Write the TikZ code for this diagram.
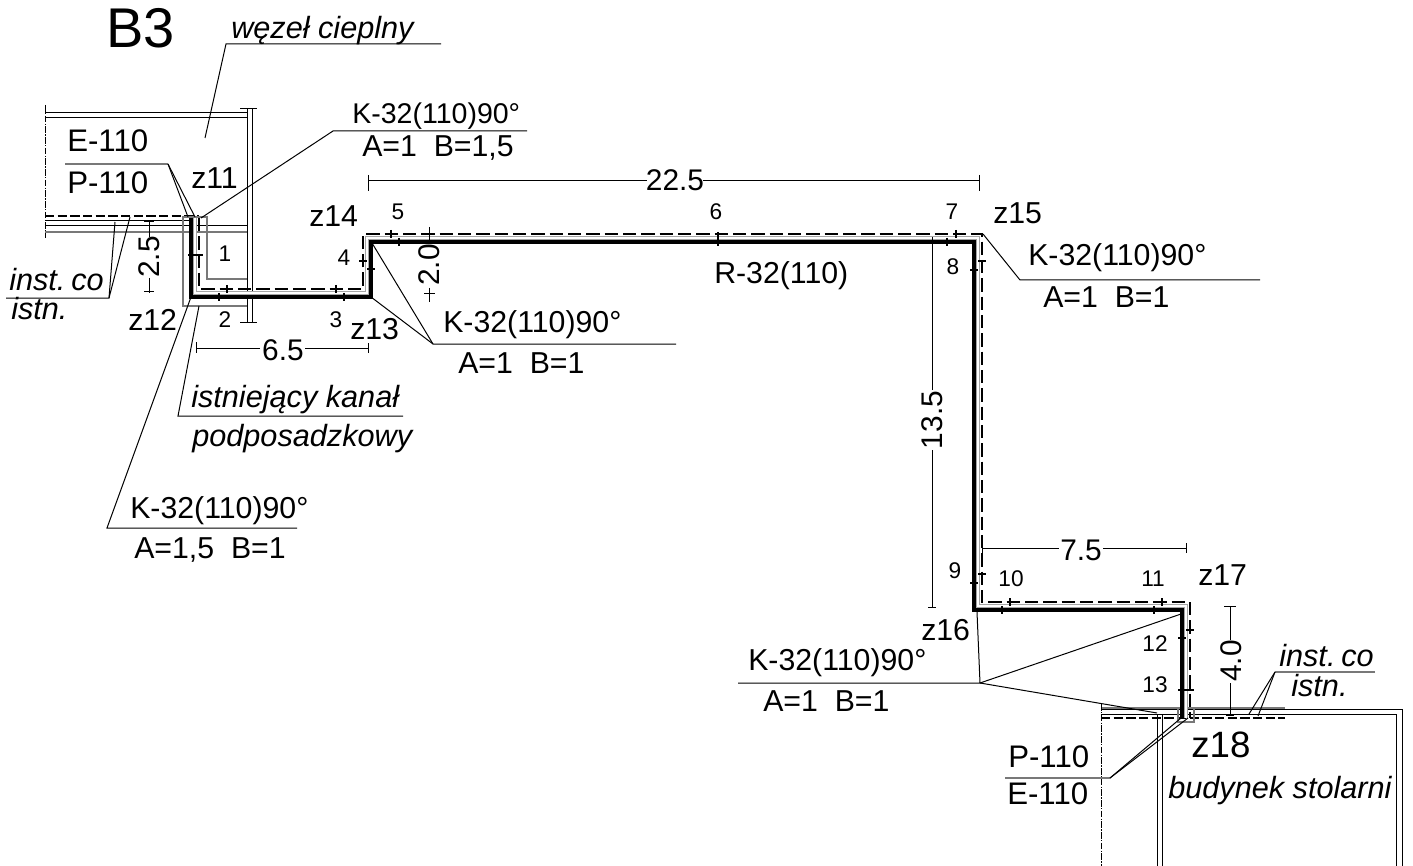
\documentclass[tikz,border=0pt]{standalone}
\usepackage{fontspec}
\setmainfont{Liberation Sans}
\usepackage{tikz}

\tikzset{
  txt/.style={anchor=base west,inner sep=0pt,font=\fontsize{22.7}{26}\selectfont},
  num/.style={anchor=base,inner sep=0pt,font=\fontsize{17}{20}\selectfont},
  ital/.style={anchor=base west,inner sep=0pt,font=\fontsize{23}{27}\selectfont\itshape},
  dimtxt/.style={inner sep=0pt,font=\fontsize{22.4}{26}\selectfont},
  thin line/.style={line width=0.7pt},
  leader/.style={line width=0.75pt},
  wall/.style={line width=0.75pt},
  channel/.style={line width=1pt,color={rgb,255:red,120;green,120;blue,120}},
  axis/.style={line width=0.6pt,dash pattern={on 5pt off 1pt on 1pt off 1pt}},
  pipe/.style={line width=2.5pt,miter limit=10},
  retpipe/.style={line width=2pt,dash pattern={on 10pt off 3.75pt}},
  jacket/.style={line width=2.6pt,color={rgb,255:red,165;green,165;blue,165}},
  jacketw/.style={line width=1.2pt,color=white},
  dashline/.style={line width=0.9pt,dash pattern={on 7pt off 2.5pt}},
  tick/.style={line width=1.3pt}
}

\begin{document}
\begin{tikzpicture}[x=0.75pt,y=0.75pt,yscale=-1,xscale=1]
\useasboundingbox (0,0) rectangle (1413,866);

% Wall left building
\draw [wall] (45,113) -- (247,113) ;
\draw [wall] (45,118) -- (247,118) ;
\draw [wall] (247,109) -- (247,322) ;
\draw [wall] (252,109) -- (252,322) ;
\draw [wall] (240,109) -- (257,109) ;
\draw [wall] (240,322) -- (257,322) ;
\draw [axis] (45,105) -- (45,238) ;
\draw [wall] (45,221) -- (190,221) ;
\draw [wall] (45,226) -- (247,226) ;
\draw [channel] (45,232) -- (247,232) ;
\draw [dashline] (45,216) -- (199,216) ;

% Channel
\draw [channel] (247,306) -- (183,306) -- (183,217) -- (207,217) -- (207,279) -- (247,279) ;

% Wall right building
\draw [wall] (1101,709) -- (1402,709) -- (1402,866) ;
\draw [wall] (1101,714) -- (1396,714) -- (1396,866) ;
\draw [channel] (1101,708) -- (1285,708) ;
\draw [wall] (1157,714) -- (1157,866) ;
\draw [wall] (1162,714) -- (1162,866) ;
\draw [axis] (1101,704) -- (1101,866) ;
\draw [dashline] (1101,718) -- (1285,718) ;
\draw [channel] (1178,708) -- (1178,722) -- (1194,722) -- (1194,708) ;

% Pipes
\draw [jacket] (195,218) -- (195,293) -- (367,293) -- (367,238) -- (978,238) -- (978,606) -- (1186,606) -- (1186,718) ;
\draw [jacketw] (195,218) -- (195,293) -- (367,293) -- (367,238) -- (978,238) -- (978,606) -- (1186,606) -- (1186,718) ;
\draw [pipe] (191,218) -- (191,297) -- (371,297) -- (371,242) -- (974,242) -- (974,610) -- (1182,610) -- (1182,718) ;
\draw [retpipe] (199,218) -- (199,289) -- (363,289) -- (363,234) -- (982,234) -- (982,602) -- (1190,602) -- (1190,718) ;

% Pipe ticks
\draw [tick] (188,255) -- (203,255) ;
\draw [tick] (219,293) -- (219,301) ;
\draw [tick] (227,285) -- (227,293) ;
\draw [tick] (344,293) -- (344,301) ;
\draw [tick] (336,285) -- (336,293) ;
\draw [tick] (359,261) -- (367,261) ;
\draw [tick] (367,269) -- (375,269) ;
\draw [tick] (391,230) -- (391,238) ;
\draw [tick] (399,238) -- (399,246) ;
\draw [tick] (718,232) -- (718,246) ;
\draw [tick] (956,230) -- (956,238) ;
\draw [tick] (947,238) -- (947,246) ;
\draw [tick] (970,270) -- (978,270) ;
\draw [tick] (978,261) -- (986,261) ;
\draw [tick] (970,583) -- (978,583) ;
\draw [tick] (978,574) -- (986,574) ;
\draw [tick] (1010,598) -- (1010,606) ;
\draw [tick] (1002,606) -- (1002,614) ;
\draw [tick] (1162,598) -- (1162,606) ;
\draw [tick] (1154,606) -- (1154,614) ;
\draw [tick] (1186,630) -- (1194,630) ;
\draw [tick] (1178,638) -- (1186,638) ;
\draw [tick] (1178,690) -- (1194,690) ;

% Dimensions
\draw [thin line] (368,175) -- (368,191) ;
\draw [thin line] (979,175) -- (979,191) ;
\draw [thin line] (368,180) -- (647,180) ;
\draw [thin line] (703,180) -- (979,180) ;
\draw (675,180) node (dimA) [dimtxt] {22.5};

\draw [thin line] (196,342) -- (196,353) ;
\draw [thin line] (368,343) -- (368,353) ;
\draw [thin line] (196,348) -- (260,348) ;
\draw [thin line] (305,348) -- (368,348) ;
\draw (283,350) node (dimB) [dimtxt] {6.5};

\draw [thin line] (982,540) -- (982,553) ;
\draw [thin line] (1186,543) -- (1186,553) ;
\draw [thin line] (982,548) -- (1059,548) ;
\draw [thin line] (1103,548) -- (1186,548) ;
\draw (1081,550) node (dimC) [dimtxt] {7.5};

\draw [thin line] (149,221) -- (149,237) ;
\draw [thin line] (149,278) -- (149,293) ;
\draw [thin line] (144,221) -- (154,221) ;
\draw [thin line] (144,291) -- (154,291) ;
\draw (149,257) node (dimD) [dimtxt,rotate=90] {2.5};

\draw [thin line] (429,227) -- (429,240) ;
\draw [thin line] (429,288) -- (429,302) ;
\draw [thin line] (424,293) -- (435,293) ;
\draw (429,265) node (dimE) [dimtxt,rotate=90] {2.0};

\draw [thin line] (932,237) -- (932,390) ;
\draw [thin line] (932,450) -- (932,607) ;
\draw [thin line] (928,607) -- (936,607) ;
\draw (932,420) node (dimF) [dimtxt,rotate=90] {13.5};

\draw [thin line] (1230,606) -- (1230,640) ;
\draw [thin line] (1230,683) -- (1230,716) ;
\draw [thin line] (1224,606) -- (1236,606) ;
\draw [thin line] (1226,715) -- (1234,715) ;
\draw (1231,661) node (dimG) [dimtxt,rotate=90] {4.0};

% Leaders
\draw [leader] (441,44) -- (226,44) -- (205,138) ;
\draw [channel] (65,164) -- (168,164) ;
\draw [leader] (168,164) -- (188,217) ;
\draw [leader] (168,164) -- (195,217) ;
\draw [leader] (527,131) -- (333,131) -- (201,218) ;
\draw [leader] (6,298) -- (109,298) -- (115,222) ;
\draw [leader] (109,298) -- (130,217) ;
\draw [leader] (297,528) -- (107,528) -- (191,297) ;
\draw [leader] (403,416) -- (178,416) -- (199,306) ;
\draw [leader] (676,344) -- (433,344) -- (371,297) ;
\draw [leader] (433,344) -- (372,243) ;
\draw [leader] (1260,280) -- (1020,280) -- (983,234) ;
\draw [leader] (738,683) -- (980,683) -- (977,612) ;
\draw [leader] (980,683) -- (1181,614) ;
\draw [leader] (980,683) -- (1157,713) ;
\draw [channel] (1005,778) -- (1110,778) ;
\draw [leader] (1110,778) -- (1181,718) ;
\draw [leader] (1110,778) -- (1188,718) ;
\draw [channel] (1375,672) -- (1275,672) ;
\draw [leader] (1275,672) -- (1249,714) ;
\draw [leader] (1275,672) -- (1258,716) ;

% Text Node
\draw (106,48) node (title) [anchor=base west,inner sep=0pt,font=\fontsize{42}{46}\selectfont] {B3};
\draw (231,39) node (wezel) [ital] {węzeł cieplny};
\draw (352,124) node (kA) [txt,font=\fontsize{21.4}{25}\selectfont] {K-32(110)90°};
\draw (362,157) node (kAab) [txt] {A=1\ \ B=1,5};
\draw (67,152) node (eA) [txt,font=\fontsize{23.4}{26}\selectfont] {E-110};
\draw (67,194) node (pA) [txt,font=\fontsize{23.4}{26}\selectfont] {P-110};
\draw (191,189) node (z11) [txt] {z11};
\draw (128,330) node (z12) [txt] {z12};
\draw (350,339) node (z13) [txt] {z13};
\draw (309,227) node (z14) [txt] {z14};
\draw (993,224) node (z15) [txt] {z15};
\draw (921,640) node (z16) [txt] {z16};
\draw (1198,585) node (z17) [txt] {z17};
\draw (1191,757) node (z18) [anchor=base west,inner sep=0pt,font=\fontsize{27.5}{31}\selectfont] {z18};
\draw (9,291) node (instA) [ital] {inst.\kern-2pt\ co};
\draw (11,320) node (istnA) [ital] {istn.};
\draw (714,284) node (rA) [txt] {R-32(110)};
\draw (1028,266) node (kB) [txt] {K-32(110)90°};
\draw (1043,307) node (kBab) [txt] {A=1\ \ B=1};
\draw (443,332) node (kC) [txt] {K-32(110)90°};
\draw (458,373) node (kCab) [txt] {A=1\ \ B=1};
\draw (130,518) node (kD) [txt] {K-32(110)90°};
\draw (134,558) node (kDab) [txt] {A=1,5\ \ B=1};
\draw (748,670) node (kE) [txt] {K-32(110)90°};
\draw (763,711) node (kEab) [txt] {A=1\ \ B=1};
\draw (191,407) node (kanalA) [ital] {istniejący kanał};
\draw (192,446) node (kanalB) [ital] {podposadzkowy};
\draw (1008,767) node (pB) [txt,font=\fontsize{23.4}{26}\selectfont] {P-110};
\draw (1007,804) node (eB) [txt,font=\fontsize{23.4}{26}\selectfont] {E-110};
\draw (1168,798) node (budynek) [ital] {budynek stolarni};
\draw (1279,666) node (instB) [ital] {inst.\kern-2pt\ co};
\draw (1291,696) node (istnB) [ital] {istn.};

% Segment numbers
\draw (225,262) node (n1) [num] {1};
\draw (225,327) node (n2) [num] {2};
\draw (336,327) node (n3) [num] {3};
\draw (344,266) node (n4) [num] {4};
\draw (398,220) node (n5) [num] {5};
\draw (716,220) node (n6) [num] {6};
\draw (952,220) node (n7) [num] {7};
\draw (953,275) node (n8) [num] {8};
\draw (955,578) node (n9) [num] {9};
\draw (1011,586) node (n10) [num] {10};
\draw (1153,586) node (n11) [num] {11};
\draw (1155,651) node (n12) [num] {12};
\draw (1155,692) node (n13) [num] {13};

\end{tikzpicture}
\end{document}
